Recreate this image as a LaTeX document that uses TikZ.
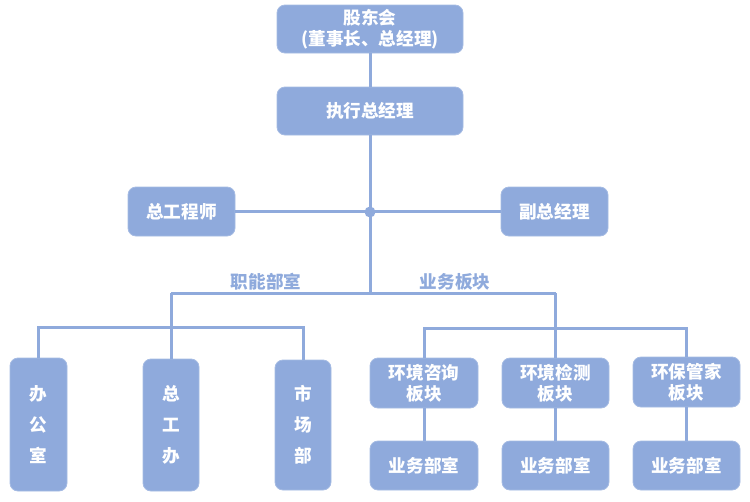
\documentclass[tikz,border=0pt]{standalone}
\usepackage{fontspec}
\usepackage{xcolor}
\newfontfamily\cjk{Noto Sans CJK SC}
\definecolor{orgblue}{HTML}{8FAADC}

\begin{document}
\begin{tikzpicture}[x=1pt, y=-1pt,
    unit/.style={fill=orgblue, draw=orgblue!80!white, line width=0.8pt, rounded corners=8pt,
      text=white, font=\cjk\bfseries\fontsize{17.6}{21}\selectfont, align=center, inner sep=0pt},
    tallunit/.style={unit, font=\cjk\bfseries\fontsize{17.6}{31}\selectfont},
    link/.style={draw=orgblue, line width=3pt},
    grouplabel/.style={text=orgblue, font=\cjk\bfseries\fontsize{17.6}{21}\selectfont}]
    \useasboundingbox (0,0) rectangle (750,501);
    % top of the tree
    \node[unit, minimum width=186pt, minimum height=48pt] (board) at (370,29) {股东会\\(董事长、总经理)};
    \node[unit, minimum width=186pt, minimum height=48pt] (ceo) at (370,111) {执行总经理};
    \node[unit, minimum width=107pt, minimum height=49pt] (chiefeng) at (181.5,211.5) {总工程师};
    \node[unit, minimum width=107pt, minimum height=49pt] (vicegm) at (554.5,211.5) {副总经理};
    % functional departments
    \node[tallunit, minimum width=57pt, minimum height=133pt] (office) at (38.5,424.5) {办\\公\\室};
    \node[tallunit, minimum width=56pt, minimum height=132pt] (engoffice) at (171,425) {总\\工\\办};
    \node[tallunit, minimum width=56pt, minimum height=130pt] (market) at (303,425) {市\\场\\部};
    % business units
    \node[unit, minimum width=108pt, minimum height=50pt] (consult) at (424,383) {环境咨询\\板块};
    \node[unit, minimum width=107pt, minimum height=50pt] (monitor) at (555.5,383) {环境检测\\板块};
    \node[unit, minimum width=107pt, minimum height=50pt] (steward) at (686.5,382) {环保管家\\板块};
    \node[unit, minimum width=108pt, minimum height=49pt] (dept1) at (424,465.5) {业务部室};
    \node[unit, minimum width=107pt, minimum height=49pt] (dept2) at (555.5,465.5) {业务部室};
    \node[unit, minimum width=107pt, minimum height=49pt] (dept3) at (686.5,465.5) {业务部室};
    \node[grouplabel] (funclabel) at (266,282) {职能部室};
    \node[grouplabel] (bizlabel) at (455,282) {业务板块};

    \coordinate (split) at (370,293);
    \coordinate (lsplit) at (171,293);
    \coordinate (rsplit) at (555.5,293);
    \coordinate (lbar) at (171,327);
    \coordinate (rbar) at (555.5,328);

    \draw[link] (board) -- (ceo);
    \draw[link] (ceo) -- (split);
    \draw[link] (chiefeng) -- (vicegm);
    \node[circle, fill=orgblue, minimum size=11pt, inner sep=0pt] (hub) at (370,212) {};
    \draw[link] (lsplit) -- (rsplit);
    \draw[link] (lsplit) -- (engoffice);
    \draw[link] (office.north) |- (lbar) -| (market.north);
    \draw[link] (rsplit) -- (monitor);
    \draw[link] (consult.north) |- (rbar) -| (steward.north);
    \draw[link] (consult) -- (dept1);
    \draw[link] (monitor) -- (dept2);
    \draw[link] (steward) -- (dept3);
\end{tikzpicture}
\end{document}
